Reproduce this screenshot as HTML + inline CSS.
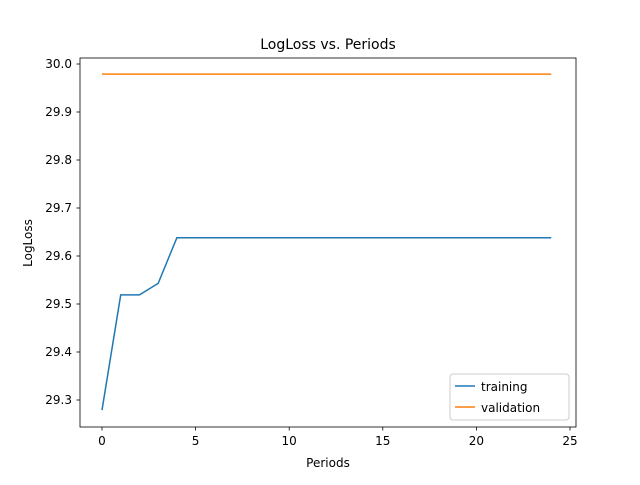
<!DOCTYPE html>
<html><head><meta charset="utf-8"><style>
body{margin:0;background:#fff;}
text{font-family:"DejaVu Sans","Liberation Sans",sans-serif;fill:#000;}
</style></head><body>
<svg width="640" height="480">
<rect x="0" y="0" width="640" height="480" fill="#fff"/>
<text x="328" y="49" font-size="14" text-anchor="middle">LogLoss vs. Periods</text>
<g id="plot"></g>
<rect x="80" y="58" width="496" height="369" fill="none" stroke="#000" stroke-width="0.8"/>
<text x="328" y="467" font-size="12" text-anchor="middle">Periods</text>
<text transform="translate(32,243) rotate(-90)" font-size="12" text-anchor="middle">LogLoss</text>
<g>
<rect x="450" y="374" width="119" height="46" rx="3" fill="#fff" stroke="#ccc" stroke-width="1"/>
<line x1="455" y1="386" x2="475" y2="386" stroke="#1f77b4" stroke-width="1.5"/>
<text x="481" y="391" font-size="12">training</text>
<line x1="455" y1="407" x2="475" y2="407" stroke="#ff7f0e" stroke-width="1.5"/>
<text x="481" y="412" font-size="12">validation</text>
</g>
</svg>
<script>
const periods=[0,1,2,3,4,5,6,7,8,9,10,11,12,13,14,15,16,17,18,19,20,21,22,23,24];
const training=[29.279,29.519,29.519,29.543,29.638,29.638,29.638,29.638,29.638,29.638,29.638,29.638,29.638,29.638,29.638,29.638,29.638,29.638,29.638,29.638,29.638,29.638,29.638,29.638,29.638];
const validation=[29.979,29.979,29.979,29.979,29.979,29.979,29.979,29.979,29.979,29.979,29.979,29.979,29.979,29.979,29.979,29.979,29.979,29.979,29.979,29.979,29.979,29.979,29.979,29.979,29.979];
const xTicks=[0,5,10,15,20,25];
const yTicks=[29.3,29.4,29.5,29.6,29.7,29.8,29.9,30.0];
const xs=v=>102+v*18.72;
const ys=v=>64+(30.0-v)*480;
const NS="http://www.w3.org/2000/svg";
const g=document.getElementById('plot');
function mk(t,a){const e=document.createElementNS(NS,t);for(const k in a)e.setAttribute(k,a[k]);g.appendChild(e);return e;}
xTicks.forEach(t=>{
 const l=mk('line',{x1:xs(t),x2:xs(t),y1:427,y2:430.5,stroke:'#000','stroke-width':0.8});
 
 
 const tx=mk('text',{x:xs(t),y:445,'font-size':12,'text-anchor':'middle'});tx.textContent=t;
 
 
});
yTicks.forEach(t=>{
 const l=mk('line',{x1:76.5,x2:80,y1:ys(t),y2:ys(t),stroke:'#000','stroke-width':0.8});
 
 
 const tx=mk('text',{x:72,y:ys(t)+4,'font-size':12,'text-anchor':'end'});tx.textContent=t.toFixed(1);
 
 
});
function line(vals,color,name){
 const p=mk('polyline',{points:vals.map((v,i)=>xs(periods[i])+','+ys(v)).join(' '),fill:'none',stroke:color,'stroke-width':1.5});
 
 
}
line(training,'#1f77b4','training-line');
line(validation,'#ff7f0e','validation-line');
</script>
</body></html>
